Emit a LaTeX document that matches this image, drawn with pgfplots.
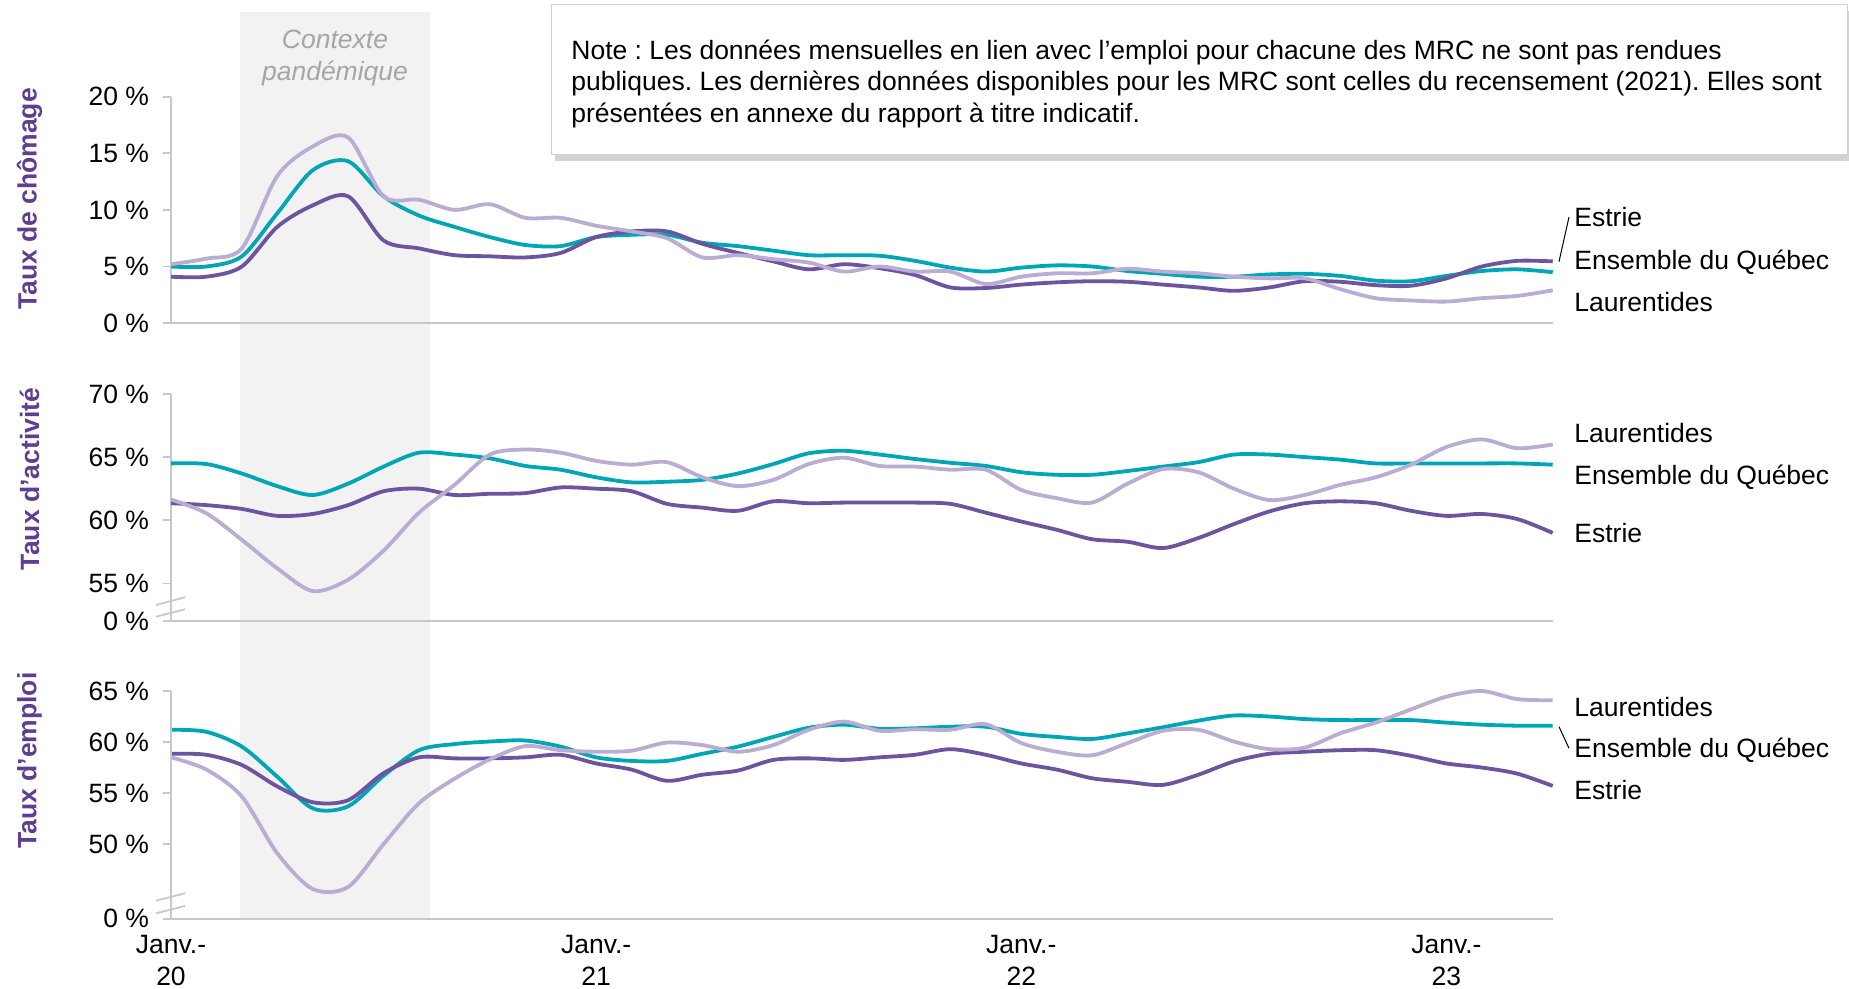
\documentclass[border=0pt]{standalone}
\usepackage{fontspec}
\setmainfont{Liberation Sans}
\usepackage{pgfplots}
\pgfplotsset{compat=1.18}
\usepackage{pgfplotstable}
\usetikzlibrary{shadows}
\frenchspacing

\definecolor{quebec}{RGB}{0,166,180}
\definecolor{estrie}{RGB}{108,84,158}
\definecolor{laurent}{RGB}{186,172,210}
\definecolor{titlepurple}{RGB}{95,62,145}
\definecolor{axisgrey}{RGB}{200,200,200}
\definecolor{bandgrey}{RGB}{242,242,242}
\definecolor{ctxgrey}{RGB}{166,166,166}
\definecolor{boxgrey}{RGB}{210,210,210}

% m = mois depuis janv. 2020 ; Q = Ensemble du Québec, E = Estrie, L = Laurentides
\pgfplotstableread{
m Q E L
0 5.0 4.1 5.2
1 5.0 4.1 5.7
2 5.9 5.0 6.6
3 9.7 8.5 13.0
4 13.5 10.4 15.6
5 14.3 11.2 16.4
6 11.2 7.3 11.2
7 9.5 6.6 10.9
8 8.5 6.0 10.0
9 7.6 5.9 10.5
10 6.9 5.8 9.3
11 6.8 6.2 9.3
12 7.6 7.6 8.6
13 7.8 8.1 8.1
14 7.8 8.1 7.5
15 7.1 7.0 5.8
16 6.8 6.2 6.0
17 6.4 5.45 5.65
18 6.0 4.75 5.35
19 6.0 5.2 4.55
20 5.95 4.85 5.0
21 5.5 4.25 4.55
22 4.9 3.15 4.55
23 4.55 3.1 3.45
24 4.9 3.4 4.1
25 5.1 3.6 4.4
26 5.0 3.7 4.4
27 4.6 3.65 4.8
28 4.35 3.4 4.55
29 4.1 3.15 4.4
30 4.1 2.85 4.1
31 4.3 3.15 3.95
32 4.35 3.7 3.95
33 4.17 3.65 3.0
34 3.75 3.35 2.2
35 3.7 3.3 2.0
36 4.17 3.95 1.9
37 4.6 5.0 2.2
38 4.75 5.5 2.4
39 4.5 5.45 2.9
}\chomage

\pgfplotstableread{
m Q E L
0 64.5 61.35 61.65
1 64.45 61.2 60.55
2 63.7 60.9 58.45
3 62.7 60.35 56.2
4 62.0 60.5 54.4
5 62.9 61.2 55.3
6 64.25 62.3 57.6
7 65.35 62.5 60.6
8 65.2 62.0 62.8
9 64.9 62.1 65.2
10 64.3 62.15 65.6
11 64.0 62.6 65.35
12 63.4 62.5 64.7
13 63.0 62.3 64.4
14 63.05 61.3 64.6
15 63.2 61.0 63.4
16 63.7 60.75 62.7
17 64.45 61.5 63.2
18 65.3 61.35 64.45
19 65.5 61.4 64.95
20 65.2 61.4 64.3
21 64.85 61.4 64.25
22 64.55 61.3 64.0
23 64.3 60.6 64.0
24 63.8 59.9 62.4
25 63.6 59.25 61.75
26 63.6 58.5 61.4
27 63.9 58.3 62.9
28 64.25 57.8 64.05
29 64.6 58.6 63.8
30 65.2 59.7 62.5
31 65.2 60.7 61.6
32 65.0 61.35 62.0
33 64.8 61.5 62.8
34 64.5 61.35 63.4
35 64.5 60.75 64.4
36 64.5 60.35 65.8
37 64.5 60.5 66.4
38 64.5 60.1 65.7
39 64.4 59.0 66.0
}\activite

\pgfplotstableread{
m Q E L
0 61.2 58.85 58.5
1 61.0 58.75 57.3
2 59.55 57.75 54.65
3 56.6 55.65 49.1
4 53.5 54.1 45.6
5 53.7 54.3 45.8
6 56.7 56.95 50.0
7 59.2 58.5 54.0
8 59.8 58.4 56.4
9 60.05 58.4 58.3
10 60.15 58.5 59.6
11 59.55 58.75 59.2
12 58.5 57.9 59.05
13 58.15 57.3 59.15
14 58.15 56.2 59.95
15 58.85 56.8 59.7
16 59.55 57.2 59.05
17 60.5 58.25 59.7
18 61.4 58.4 61.2
19 61.7 58.25 62.0
20 61.3 58.5 61.1
21 61.35 58.75 61.25
22 61.5 59.3 61.2
23 61.5 58.75 61.75
24 60.8 57.9 59.9
25 60.5 57.3 59.05
26 60.3 56.45 58.7
27 60.85 56.1 59.9
28 61.45 55.8 61.1
29 62.1 56.8 61.2
30 62.6 58.1 60.05
31 62.5 58.85 59.3
32 62.25 59.05 59.45
33 62.15 59.2 60.85
34 62.15 59.2 61.9
35 62.15 58.65 63.2
36 61.9 57.9 64.45
37 61.7 57.5 65.0
38 61.6 56.9 64.2
39 61.6 55.7 64.1
}\emploi

\pgfplotsset{
  panel/.style={
    scale only axis, width=690.85pt,
    xmin=0, xmax=39,
    axis x line*=bottom, axis y line*=left,
    axis line style={draw=axisgrey, line width=0.9pt},
    xtick=\empty,
    tick style={draw=axisgrey, line width=0.9pt},
    tick align=outside, major tick length=4pt,
    yticklabel style={font=\fontsize{13.25}{15}\selectfont, text=black, xshift=-3.5pt},
    clip=false,
    every axis plot/.append style={line width=1.9pt, smooth, no markers},
  },
}
\tikzset{lab/.style={font=\fontsize{13.25}{15}\selectfont, anchor=base west, inner sep=0pt}}

\begin{document}
\begin{tikzpicture}
\useasboundingbox (0,0) rectangle (924.5pt,-494.5pt);

% Taux d'emploi (porte aussi la bande du contexte pandémique)
\begin{axis}[panel, at={(85.5pt,-459.3pt)}, anchor=south west, height=113.8pt,
  axis on top,
  ymin=42.7, ymax=65, ytick={42.7,50,55,60,65},
  yticklabels={0~\%,50~\%,55~\%,60~\%,65~\%},
  xtick={0,12,24,36},
  xticklabels={{Janv.-\\20},{Janv.-\\21},{Janv.-\\22},{Janv.-\\23}},
  xticklabel style={align=center, font=\fontsize{13.25}{16}\selectfont, yshift=-0.6pt},
  x tick style={draw=none}]
  \fill[bandgrey] (axis cs:1.95,42.7) rectangle (axis cs:7.3,131.5);
  \addplot[quebec] table[x=m,y=Q]{\emploi};
  \addplot[estrie] table[x=m,y=E]{\emploi};
  \addplot[laurent] table[x=m,y=L]{\emploi};
\end{axis}

% Taux d'activité
\begin{axis}[panel, at={(85.5pt,-310.7pt)}, anchor=south west, height=113.75pt,
  ymin=52, ymax=70, ytick={52,55,60,65,70},
  yticklabels={0~\%,55~\%,60~\%,65~\%,70~\%}]
  \addplot[quebec] table[x=m,y=Q]{\activite};
  \addplot[estrie] table[x=m,y=E]{\activite};
  \addplot[laurent] table[x=m,y=L]{\activite};
\end{axis}

% Taux de chômage
\begin{axis}[panel, at={(85.5pt,-161.55pt)}, anchor=south west, height=113.2pt,
  ymin=0, ymax=20, ytick={0,5,10,15,20},
  yticklabels={0~\%,5~\%,10~\%,15~\%,20~\%}]
  \addplot[quebec] table[x=m,y=Q]{\chomage};
  \addplot[estrie] table[x=m,y=E]{\chomage};
  \addplot[laurent] table[x=m,y=L]{\chomage};
\end{axis}

% axis breaks
\draw[axisgrey, line width=0.9pt] (78pt,-302.5pt) -- (92.5pt,-298.65pt);
\draw[axisgrey, line width=0.9pt] (78pt,-308.35pt) -- (92.5pt,-304.65pt);
\draw[axisgrey, line width=0.9pt] (78pt,-450.35pt) -- (92.5pt,-446.65pt);
\draw[axisgrey, line width=0.9pt] (78pt,-456.65pt) -- (92.5pt,-453pt);

% shaded period label
\node[font=\fontsize{13.25}{15}\selectfont\itshape, text=ctxgrey, anchor=base, inner sep=0pt] at (167.5pt,-24.15pt) {Contexte};
\node[font=\fontsize{13.25}{15}\selectfont\itshape, text=ctxgrey, anchor=base, inner sep=0pt] at (167.5pt,-40.15pt) {pandémique};

% y titles
\node[rotate=90, font=\fontsize{13.25}{15}\selectfont\bfseries, text=titlepurple] at (14.75pt,-99.5pt) {Taux de chômage};
\node[rotate=90, font=\fontsize{13.25}{15}\selectfont\bfseries, text=titlepurple] at (14.75pt,-239.5pt) {Taux d’activité};
\node[rotate=90, font=\fontsize{13.25}{15}\selectfont\bfseries, text=titlepurple] at (14.75pt,-380.3pt) {Taux d’emploi};

% series labels
\node[lab] at (787pt,-113.3pt) {Estrie};
\node[lab] at (787pt,-134.8pt) {Ensemble du Québec};
\node[lab] at (787pt,-155.8pt) {Laurentides};
\draw[line width=0.5pt] (784.5pt,-108.5pt) -- (779.5pt,-130.85pt);

\node[lab] at (787pt,-221.3pt) {Laurentides};
\node[lab] at (787pt,-242.3pt) {Ensemble du Québec};
\node[lab] at (787pt,-271.3pt) {Estrie};

\node[lab] at (787pt,-358.05pt) {Laurentides};
\node[lab] at (787pt,-378.8pt) {Ensemble du Québec};
\node[lab] at (787pt,-399.8pt) {Estrie};
\draw[line width=0.5pt] (779.5pt,-363.35pt) -- (784.5pt,-374.15pt);

% note box
\node[draw=boxgrey, fill=white, line width=0.6pt, inner sep=0pt,
  drop shadow={shadow xshift=1.5pt, shadow yshift=-3pt, opacity=0.35},
  minimum width=648pt, minimum height=75pt, anchor=north west] at (275.5pt,-2pt) {};
\node[lab] at (285.5pt,-29.6pt) {Note : Les données mensuelles en lien avec l’emploi pour chacune des MRC ne sont pas rendues};
\node[lab] at (285.5pt,-45.5pt) {publiques. Les dernières données disponibles pour les MRC sont celles du recensement (2021). Elles sont};
\node[lab] at (285.5pt,-61.4pt) {présentées en annexe du rapport à titre indicatif.};
\end{tikzpicture}
\end{document}
